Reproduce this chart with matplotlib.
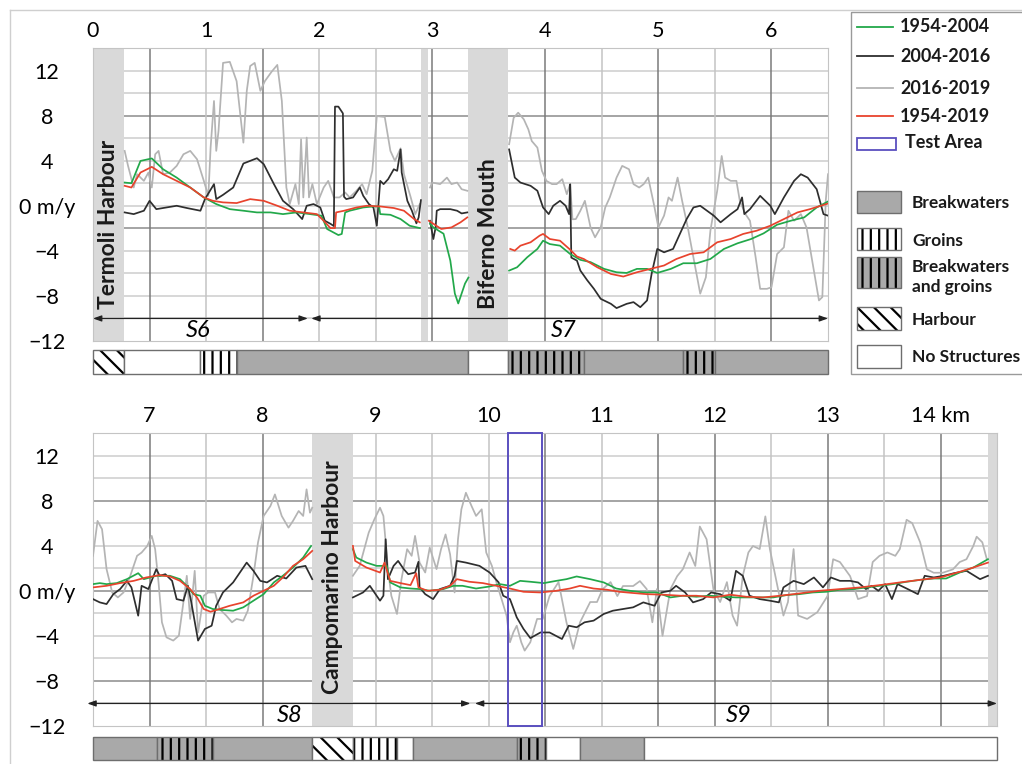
import numpy as np
import matplotlib.pyplot as plt
from matplotlib.patches import Rectangle
from matplotlib.lines import Line2D

plt.rcParams['font.family'] = ['Lato', 'DejaVu Sans']
plt.rcParams['hatch.linewidth'] = 1.6

nan = np.nan

# ---------------- top panel, 0 - 6.5 km ----------------
top_green_km = [0.28, 0.34, 0.42, 0.52, 0.62, 0.74, 0.86, 0.98, 1.09, 1.21, 1.33, 1.45, 1.57, 1.68, 1.80,
                1.92, 2.02, 2.07, 2.17, 2.20, 2.23, 2.27, 2.39, 2.48, 2.53, 2.54, 2.63, 2.72, 2.80, 2.89, nan,
                2.98, 3.01, 3.10, 3.16, 3.20, 3.23, 3.29, 3.32, nan,
                3.68, 3.75, 3.84, 3.93, 3.98, 4.04, 4.13, 4.22, 4.31, 4.40, 4.52, 4.63, 4.72, 4.81, 4.90,
                4.99, 5.11, 5.22, 5.34, 5.46, 5.58, 5.70, 5.82, 5.93, 6.05, 6.17, 6.29, 6.40, 6.50]
top_green = [2.06, 2.0, 3.98, 4.2, 3.24, 2.5, 1.62, 0.74, 0.15, -0.3, -0.44, -0.59, -0.59, -0.74, -0.59,
             -0.74, -0.88, -2.06, -2.6, -2.5, -0.59, -0.44, -0.15, -0.06, -0.06, -0.74, -0.8, -1.18, -1.77, -1.98, nan,
             -1.6, -1.92, -2.48, -4.87, -7.79, -8.67, -6.9, -6.37, nan,
             -5.75, -5.46, -4.57, -3.83, -3.1, -3.4, -3.54, -4.28, -4.8, -5.0, -5.6, -5.9, -5.96, -5.6, -5.6,
             -5.96, -5.6, -5.1, -5.1, -4.72, -3.83, -3.33, -2.95, -2.45, -1.68, -1.33, -1.03, -0.15, 0.38]

top_red_km = [0.28, 0.34, 0.42, 0.52, 0.62, 0.74, 0.86, 0.98, 1.06, 1.15, 1.27, 1.39, 1.51, 1.63, 1.74,
              1.86, 1.98, 2.04, 2.10, 2.14, 2.15, 2.22, 2.33, 2.42, 2.54, 2.66, 2.75, 2.84, 2.89, nan,
              2.97, 3.08, 3.17, 3.25, 3.31, nan,
              3.69, 3.73, 3.78, 3.87, 3.95, 3.98, 4.04, 4.13, 4.22, 4.28, 4.34, 4.46, 4.58, 4.69, 4.81,
              4.93, 5.05, 5.16, 5.28, 5.40, 5.52, 5.64, 5.75, 5.87, 5.99, 6.11, 6.23, 6.34, 6.50]
top_red = [1.77, 1.62, 2.95, 3.45, 2.8, 2.21, 1.62, 0.74, 0.44, 0.3, 0.24, 0.59, 0.44, 0.0, -0.44,
           -0.59, -0.74, -1.33, -1.98, -1.98, -0.59, -0.44, -0.15, 0.0, -0.06, -0.2, -0.44, -1.18, -1.47, nan,
           -1.33, -2.06, -1.92, -1.47, -1.03, nan,
           -3.83, -3.98, -3.54, -3.24, -2.65, -2.5, -2.95, -3.1, -3.9, -4.5, -4.72, -5.46, -6.05, -6.28, -5.9,
           -5.6, -5.3, -4.72, -4.28, -4.13, -3.24, -2.95, -2.5, -2.21, -1.77, -1.18, -0.59, -0.3, 0.2]

top_black_km = [0.28, 0.36, 0.45, 0.50, 0.56, 0.65, 0.74, 0.83, 0.95, 0.99, 1.07, 1.09, 1.15, 1.24, 1.33,
                1.45, 1.51, 1.60, 1.68, 1.77, 1.85, 1.89, 1.95, 2.01, 2.05, 2.10, 2.13, 2.14, 2.17, 2.21,
                2.22, 2.24, 2.30, 2.36, 2.39, 2.44, 2.48, 2.51, 2.54, 2.57, 2.61, 2.66, 2.69, 2.72, 2.73,
                2.78, 2.82, 2.86, 2.88, 2.90, nan,
                2.98, 3.01, 3.03, 3.04, 3.07, 3.16, 3.22, 3.26, 3.31, nan,
                3.68, 3.73, 3.78, 3.87, 3.93, 3.98, 4.03, 4.07, 4.13, 4.18, 4.21, 4.22, 4.23, 4.28, 4.31,
                4.37, 4.43, 4.49, 4.58, 4.63, 4.72, 4.78, 4.84, 4.90, 4.94, 4.99, 5.05, 5.13, 5.19, 5.25,
                5.31, 5.37, 5.43, 5.49, 5.55, 5.64, 5.70, 5.74, 5.76, 5.81, 5.90, 5.99, 6.03, 6.11, 6.20,
                6.26, 6.32, 6.40, 6.46, 6.50]
top_black = [-0.59, -0.74, -0.44, 0.44, -0.3, -0.15, 0.0, -0.2, -0.44, 0.59, 1.92, 0.59, 0.97, 1.62, 3.75,
             4.22, 3.69, 1.92, 0.44, -0.3, -1.18, 0.0, 0.15, -0.15, -1.33, -1.6, -1.8, 8.8, 8.8, 8.2,
             0.8, 0.59, 0.74, 1.62, 0.88, 0.15, -0.15, -1.77, 2.21, 1.92, 2.36, 3.24, 3.1, 5.0, 2.95,
             0.44, -0.44, -1.56, -1.03, 0.5, nan,
             -1.33, -2.95, -1.92, -0.44, -0.3, -0.3, -0.44, -0.68, -0.59, nan,
             5.0, 2.5, 2.06, 1.77, 1.33, -0.15, -0.74, 0.0, 0.44, 0.0, -0.74, 1.9, -4.6, -4.87, -5.75,
             -6.6, -7.37, -8.26, -8.7, -9.08, -8.7, -8.55, -9.0, -8.4, -6.05, -3.83, -4.13, -3.83, -2.5, -1.18,
             -0.15, 0.0, -0.44, -0.88, -1.47, -0.74, -0.3, 0.74, -0.74, -0.3, 0.88, 0.0, -0.74, 0.74, 2.21,
             2.8, 2.5, 1.47, -0.74, -0.88]

top_grey_km = [0.28, 0.31, 0.36, 0.39, 0.45, 0.49, 0.52, 0.55, 0.58, 0.62, 0.68, 0.74, 0.80, 0.86, 0.92,
               0.98, 1.02, 1.04, 1.07, 1.09, 1.11, 1.15, 1.21, 1.27, 1.33, 1.36, 1.39, 1.43, 1.48, 1.52,
               1.58, 1.63, 1.67, 1.71, 1.74, 1.79, 1.82, 1.84, 1.86, 1.89, 1.91, 1.94, 1.98, 2.04, 2.08,
               2.13, 2.18, 2.23, 2.27, 2.33, 2.38, 2.42, 2.47, 2.51, 2.58, 2.63, 2.67, 2.72, 2.75, 2.81,
               2.85, 2.89, nan,
               2.98, 3.00, 3.07, 3.13, 3.17, 3.22, 3.26, 3.31, nan,
               3.68, 3.72, 3.76, 3.81, 3.85, 3.88, 3.93, 3.97, 4.01, 4.06, 4.10, 4.15, 4.19, 4.22, 4.24,
               4.27, 4.31, 4.35, 4.40, 4.44, 4.49, 4.53, 4.57, 4.63, 4.68, 4.74, 4.78, 4.83, 4.87, 4.91,
               4.96, 5.00, 5.05, 5.09, 5.12, 5.17, 5.21, 5.26, 5.31, 5.37, 5.42, 5.46, 5.52, 5.56, 5.59,
               5.64, 5.69, 5.72, 5.77, 5.81, 5.86, 5.90, 5.96, 6.00, 6.05, 6.11, 6.15, 6.20, 6.26, 6.31,
               6.35, 6.39, 6.42, 6.45, 6.48, 6.50]
top_grey = [4.87, 3.54, 1.62, 2.8, 2.21, 2.95, 1.62, 4.57, 4.87, 2.8, 2.95, 3.54, 4.57, 4.87, 4.13,
            2.21, 0.88, 5.16, 9.3, 4.87, 6.64, 12.68, 12.77, 11.06, 5.6, 10.2, 12.4, 12.68, 10.2, 11.06,
            11.9, 12.5, 9.3, 1.62, 0.15, 1.92, 0.15, 5.9, 0.74, 6.05, 0.74, 1.92, 0.15, 1.62, 2.21,
            0.74, 0.74, 1.18, 0.74, 1.33, 1.92, 1.03, 3.1, 7.96, 7.88, 4.87, 3.98, 5.1, 2.8, 0.74,
            -0.74, 0.15, nan,
            1.62, 2.06, 1.92, 2.5, 1.92, 2.06, 1.47, 1.33, nan,
            5.46, 7.8, 8.26, 7.67, 6.78, 5.75, 5.16, 3.1, 2.21, 1.92, 1.92, 2.36, 1.03, 1.92, -1.2,
            -1.18, -0.44, 0.44, -1.92, -2.8, -1.92, -0.15, 0.74, 2.5, 3.54, 3.24, 1.92, 1.62, 1.92, 2.5,
            0.15, -1.92, -0.88, 0.74, 0.44, 2.5, 0.44, -1.92, -4.57, -7.8, -6.34, -2.21, 1.33, 4.42, 2.5,
            2.21, 2.21, 0.44, -0.74, -1.33, -4.57, -7.37, -7.37, -7.23, -4.28, -3.69, -0.44, -1.33, -0.74, -1.92,
            -4.28, -6.64, -8.4, -8.1, 0.44, 2.8]

# ---------------- bottom panel, 6.5 - 14.5 km ----------------
bot_green_km = [6.50, 6.56, 6.62, 6.71, 6.80, 6.90, 6.95, 7.06, 7.18, 7.27, 7.33, 7.39, 7.45, 7.49, 7.56,
                7.65, 7.74, 7.83, 7.92, 8.01, 8.10, 8.18, 8.27, 8.36, 8.43, nan,
                8.80, 8.83, 8.92, 9.01, 9.10, 9.13, 9.22, 9.31, 9.39, 9.48, 9.60, 9.69, 9.77, 9.89, 10.01,
                10.10, 10.19, 10.28, 10.37, 10.49, 10.60, 10.69, 10.78, 10.90, 11.02, 11.13, 11.25, 11.37,
                11.49, 11.61, 11.72, 11.84, 11.96, 12.08, 12.19, 12.31, 12.43, 12.52, 12.64, 12.75, 12.87,
                12.99, 13.11, 13.23, 13.35, 13.46, 13.58, 13.70, 13.82, 13.94, 14.05, 14.17, 14.29, 14.42]
bot_green = [0.59, 0.68, 0.59, 0.68, 1.03, 1.56, 1.03, 1.33, 1.33, 1.03, 0.44, -0.3, -0.44, -1.33, -1.62,
             -1.71, -1.77, -1.47, -0.88, -0.3, 0.74, 1.33, 2.06, 2.95, 3.98, nan,
             3.69, 2.95, 2.5, 2.21, 2.21, 0.74, 0.3, 0.2, 0.15, 0.0, 0.15, 0.44, 0.44, 0.2, 0.38,
             0.59, 0.44, 0.88, 0.8, 0.68, 0.88, 1.03, 1.27, 1.03, 0.74, 0.2, 0.0, -0.15,
             -0.15, -0.59, -0.44, -0.53, -0.44, -0.53, -0.59, -0.59, -0.59, -0.59, -0.38, -0.3, -0.15,
             -0.09, 0.09, 0.15, 0.3, 0.44, 0.59, 0.8, 0.97, 1.09, 1.09, 1.62, 2.06, 2.8]

bot_red_km = [6.50, 6.62, 6.74, 6.86, 6.97, 7.09, 7.18, 7.27, 7.36, 7.42, 7.48, 7.54, 7.62, 7.71, 7.83,
              7.92, 8.01, 8.10, 8.18, 8.27, 8.36, 8.44, nan,
              8.80, 8.82, 8.92, 9.04, 9.08, 9.13, 9.22, 9.31, 9.36, 9.38, 9.46, 9.57, 9.66, 9.72, 9.83,
              9.95, 10.07, 10.19, 10.31, 10.46, 10.60, 10.72, 10.81, 10.93, 11.05, 11.16, 11.28, 11.40,
              11.55, 11.70, 11.84, 11.99, 12.14, 12.28, 12.43, 12.58, 12.75, 12.93, 13.11, 13.29, 13.46,
              13.64, 13.82, 14.00, 14.17, 14.29, 14.42]
bot_red = [0.3, 0.44, 0.68, 0.88, 1.18, 1.39, 1.27, 0.88, 0.15, -0.59, -1.62, -1.86, -1.62, -1.33, -1.03,
           -0.44, 0.0, 0.44, 1.18, 2.21, 2.8, 3.54, nan,
           3.98, 2.65, 2.06, 1.62, 2.5, 0.88, 0.68, 0.5, 1.56, 0.3, 0.0, 0.09, 0.44, 1.03, 0.8,
           0.68, 0.44, 0.2, -0.09, -0.15, 0.0, 0.2, 0.44, 0.2, 0.09, -0.09, -0.2, -0.3,
           -0.35, -0.44, -0.44, -0.59, -0.35, -0.53, -0.59, -0.44, -0.24, 0.0, 0.15, 0.3, 0.5,
           0.74, 0.97, 1.18, 1.68, 2.06, 2.5]

bot_black_km = [6.50, 6.56, 6.62, 6.68, 6.74, 6.80, 6.84, 6.90, 6.93, 6.99, 7.06, 7.09, 7.14, 7.20, 7.24,
                7.30, 7.34, 7.37, 7.43, 7.49, 7.55, 7.59, 7.65, 7.74, 7.86, 7.92, 7.98, 8.04, 8.13, 8.21,
                8.30, 8.38, 8.44, nan,
                8.80, 8.89, 8.95, 8.99, 9.04, 9.07, 9.09, 9.11, 9.16, 9.20, 9.25, 9.29, 9.35, 9.38, 9.39,
                9.44, 9.51, 9.57, 9.66, 9.70, 9.72, 9.80, 9.92, 10.01, 10.09, 10.13, 10.19, 10.25, 10.31,
                10.37, 10.46, 10.54, 10.65, 10.71, 10.78, 10.85, 10.93, 11.02, 11.10, 11.19, 11.28, 11.37,
                11.47, 11.53, 11.61, 11.66, 11.74, 11.81, 11.90, 11.97, 12.05, 12.14, 12.19, 12.25, 12.31,
                12.40, 12.49, 12.57, 12.61, 12.70, 12.79, 12.88, 12.96, 13.03, 13.11, 13.20, 13.27, 13.34,
                13.39, 13.45, 13.51, 13.57, 13.62, 13.71, 13.80, 13.86, 13.94, 14.03, 14.12, 14.23, 14.35,
                14.42]
bot_black = [-0.74, -1.03, -1.18, -0.3, 0.15, 0.88, 0.3, -2.21, 0.44, 0.15, 1.92, 1.33, 1.47, 0.88, -0.74,
             -0.88, 0.44, -1.03, -4.42, -3.39, -3.1, -1.33, -0.15, 0.74, 2.5, 1.77, 0.88, 0.74, 1.33, 1.09,
             2.06, 2.21, 1.03, nan,
             -0.59, -0.15, 0.44, -0.15, -0.88, -0.44, 4.57, 1.03, 2.21, 2.65, 1.92, 1.47, 1.62, 2.57, 0.3,
             -0.3, -0.74, 0.15, 0.44, 1.33, 2.65, 2.5, 2.21, 1.62, 0.74, -0.44, -0.74, -2.36, -3.39,
             -4.2, -3.7, -3.7, -4.28, -3.1, -3.24, -2.8, -2.65, -2.06, -1.77, -1.62, -1.47, -1.03,
             -1.33, -0.15, 0.0, 0.44, -0.15, -1.03, -0.74, -0.15, -0.3, -0.88, 1.77, 1.33, -0.44,
             -0.74, -0.88, -1.03, 0.3, 0.88, 0.59, 1.18, 0.3, 1.18, 0.88, 0.88, 0.74, 0.15,
             0.44, 0.0, 0.59, -0.74, 0.59, 0.15, -0.3, 1.33, 1.18, 1.33, 1.56, 1.77, 1.03,
             1.33]

bot_grey_km = [6.50, 6.54, 6.58, 6.62, 6.67, 6.72, 6.77, 6.83, 6.89, 6.93, 6.98, 7.02, 7.05, 7.08, 7.11,
               7.15, 7.21, 7.26, 7.30, 7.33, 7.36, 7.40, 7.43, 7.48, 7.52, 7.58, 7.62, 7.68, 7.73, 7.77,
               7.83, 7.87, 7.92, 7.96, 8.01, 8.07, 8.11, 8.17, 8.23, 8.27, 8.32, 8.36, 8.39, 8.42, 8.44, nan,
               8.80, 8.86, 8.94, 8.99, 9.04, 9.07, 9.11, 9.14, 9.19, 9.23, 9.28, 9.32, 9.35, 9.39, 9.44,
               9.48, 9.54, 9.58, 9.62, 9.66, 9.70, 9.73, 9.76, 9.80, 9.85, 9.89, 9.94, 9.98, 10.03, 10.07,
               10.12, 10.16, 10.19, 10.22, 10.25, 10.29, 10.32, 10.37, 10.43, 10.48, 10.54, 10.62, 10.69,
               10.75, 10.81, 10.90, 10.96, 11.01, 11.08, 11.14, 11.19, 11.28, 11.34, 11.40, 11.45, 11.49,
               11.54, 11.61, 11.67, 11.72, 11.78, 11.83, 11.87, 11.93, 11.99, 12.05, 12.11, 12.16, 12.20,
               12.25, 12.30, 12.34, 12.40, 12.45, 12.49, 12.55, 12.61, 12.65, 12.70, 12.74, 12.82, 12.91,
               13.00, 13.05, 13.11, 13.20, 13.27, 13.35, 13.40, 13.46, 13.53, 13.60, 13.64, 13.70, 13.75,
               13.82, 13.88, 13.94, 14.02, 14.11, 14.17, 14.23, 14.29, 14.32, 14.37, 14.41]
bot_grey = [3.1, 6.2, 5.46, 1.92, -0.15, -0.59, -0.15, 1.33, 3.1, 3.39, 3.98, 4.87, 3.69, 0.74, -2.8,
            -4.13, -4.42, -3.98, -1.03, 1.33, -2.5, 1.77, -3.69, -0.44, -0.15, -0.15, -1.62, -2.21, -2.8, -2.5,
            -2.65, -1.77, 1.33, 4.28, 6.64, 7.52, 8.55, 6.64, 5.6, 6.2, 7.08, 6.64, 9.0, 6.93, 7.37, nan,
            1.33, 2.21, 5.16, 6.34, 7.37, 6.64, 1.92, -0.44, -2.06, 1.03, 3.69, 3.1, 4.87, 2.5, 1.62,
            3.83, 1.92, 3.69, 5.0, 3.24, -0.15, 4.57, 7.23, 8.7, 7.52, 6.64, 7.23, 3.39, 2.21, 0.74,
            -0.88, -2.21, -4.57, -3.69, -3.1, -4.57, -5.31, -4.57, -2.5, -2.5, -0.47, 0.77, -2.8,
            -5.16, -2.8, -1.0, -1.0, 0.15, 0.77, -0.47, 0.42, 0.42, 0.86, 0.15, -2.8, 0.15,
            -4.0, 0.15, 1.3, 1.92, 3.4, 2.2, 5.7, 4.57, 0.15, -1.0, 0.77, -2.2, -3.1,
            1.3, 3.4, 3.97, 3.7, 6.6, 3.7, 0.77, -2.2, -1.0, 3.7, -2.2, -2.5, -1.9,
            -0.47, 2.8, 2.55, 1.3, -0.74, -0.47, 2.55, 3.1, 3.4, 3.1, 3.7, 6.3, 6.0,
            4.3, 1.9, 1.6, 1.6, 1.9, 2.55, 2.8, 3.97, 4.8, 4.3, 2.8]

# coastal structures (start km, end km, kind)
top_struct_start = [0.0, 0.27, 0.95, 1.27, 3.32, 3.67, 4.34, 5.22, 5.50]
top_struct_end = [0.27, 0.95, 1.27, 3.32, 3.67, 4.34, 5.22, 5.50, 6.50]
top_struct_kind = ['harbour', 'none', 'groins', 'breakwaters', 'none', 'bw_groins',
                   'breakwaters', 'bw_groins', 'breakwaters']
bot_struct_start = [6.50, 7.07, 7.56, 8.44, 8.80, 9.19, 9.33, 10.25, 10.51, 10.81, 11.38]
bot_struct_end = [7.07, 7.56, 8.44, 8.80, 9.19, 9.33, 10.25, 10.51, 10.81, 11.38, 14.50]
bot_struct_kind = ['breakwaters', 'bw_groins', 'breakwaters', 'harbour', 'groins', 'none',
                   'breakwaters', 'bw_groins', 'none', 'breakwaters', 'none']

# grey bands (harbours / river mouth) and their labels
top_bands = [(0.0, 0.27), (2.90, 2.96), (3.32, 3.67)]
bot_bands = [(8.44, 8.80), (14.42, 14.50)]
top_band_labels = [('Termoli Harbour', 0.135), ('Biferno Mouth', 3.495)]
bot_band_labels = [('Campomarino Harbour', 8.62)]

# littoral cells: name, start, end, label position
top_cells = [('S6', 0.0, 1.90, 0.93), ('S7', 1.93, 6.50, 4.16)]
bot_cells = [('S8', 6.45, 9.84, 8.24), ('S9', 9.88, 14.50, 12.21)]

test_area = (10.17, 10.47)

C_GREEN = '#22a84a'
C_BLACK = '#2e2e2e'
C_GREY = '#b4b4b4'
C_RED = '#e8432d'
C_BAND = '#d9d9d9'
C_BW = '#a9a9a9'
C_TEST = '#5a4fbf'

struct_style = {
    'breakwaters': (C_BW, None),
    'groins': ('white', '||'),
    'bw_groins': (C_BW, '||'),
    'harbour': ('white', '\\\\'),
    'none': ('white', None),
}

W, H = 1022, 764
fig = plt.figure(figsize=(W / 100, H / 100), dpi=100)


def px_axes(x0, y0, x1, y1):
    return fig.add_axes([x0 / W, 1 - y1 / H, (x1 - x0) / W, (y1 - y0) / H])


def setup_panel(ax, xmin, xmax, xticks, xlabels, dark_v, dark_h):
    ax.set_xlim(xmin, xmax)
    ax.set_ylim(-12, 14)
    for y in range(-10, 14, 2):
        ax.axhline(y, color='#8c8c8c' if y in dark_h else '#cdcdcd', lw=1.1, zorder=0)
    x = np.ceil(xmin * 2) / 2
    while x < xmax - 0.01:
        if x > xmin + 0.01:
            ax.axvline(x, color='#7a7a7a' if round(x, 1) in dark_v else '#c4c4c4', lw=1.1, zorder=0)
        x += 0.5
    ax.xaxis.tick_top()
    ax.set_xticks(xticks)
    ax.set_xticklabels(xlabels, fontsize=15.5)
    ax.tick_params(axis='x', length=0, pad=5)
    ax.set_yticks([12, 8, 4, 0, -4, -8, -12])
    ax.set_yticklabels(['12', '8', '4', '0 m/y', '\u22124', '\u22128', '\u221212'], fontsize=15.5)
    ax.tick_params(axis='y', length=0, pad=33)
    for lab in ax.get_yticklabels():
        lab.set_horizontalalignment('center')
    for s in ax.spines.values():
        s.set_color('#c4c4c4')


def draw_panel(ax, bands, band_labels, cells, series):
    for a, b in bands:
        ax.axvspan(a, b, color=C_BAND, lw=0, zorder=1)
    for name, xc in band_labels:
        ax.text(xc, -9.2, name, rotation=90, ha='center', va='bottom', fontsize=16.5,
                fontweight='bold', color='#1a1a1a', zorder=5)
    for km, val, col in series:
        ax.plot(km, val, color=col, lw=1.25, zorder=3)
    for name, a, b, xl in cells:
        ax.annotate('', xy=(b, -10), xytext=(a, -10), annotation_clip=False,
                    arrowprops=dict(arrowstyle='<|-|>,head_length=0.5,head_width=0.18',
                                    color='#222222', lw=0.9, shrinkA=0, shrinkB=0), zorder=4)
        ax.text(xl, -11.1, name, ha='center', va='center', fontsize=17, style='italic', zorder=5)


def draw_structures(ax, xmin, xmax, starts, ends, kinds):
    ax.set_xlim(xmin, xmax)
    ax.set_ylim(0, 1)
    ax.axis('off')
    for a, b, k in zip(starts, ends, kinds):
        fc, hatch = struct_style[k]
        ax.add_patch(Rectangle((a, 0), b - a, 1, facecolor=fc, hatch=hatch,
                               edgecolor='black', lw=0))
        ax.add_patch(Rectangle((a, 0), b - a, 1, fill=False, edgecolor='#6e6e6e',
                               lw=1, clip_on=False))


# top panel
ax1 = px_axes(93, 48, 828, 341)
setup_panel(ax1, 0, 6.5, range(0, 7), [str(i) for i in range(0, 7)],
            dark_v=[0.5, 1.5, 3.0, 4.0, 5.0, 6.0], dark_h=[8, -2])
draw_panel(ax1, top_bands, top_band_labels, top_cells,
           [(top_grey_km, top_grey, C_GREY), (top_black_km, top_black, C_BLACK),
            (top_green_km, top_green, C_GREEN), (top_red_km, top_red, C_RED)])

bar1 = px_axes(93, 350, 828, 374)
draw_structures(bar1, 0, 6.5, top_struct_start, top_struct_end, top_struct_kind)

# bottom panel
ax2 = px_axes(93, 433, 997, 726)
setup_panel(ax2, 6.5, 14.5, range(7, 15), [str(i) for i in range(7, 14)] + ['14 km'],
            dark_v=[7.0, 8.0, 10.5, 11.5, 12.0, 13.0, 14.0], dark_h=[8, 0, -8])
draw_panel(ax2, bot_bands, bot_band_labels, bot_cells,
           [(bot_grey_km, bot_grey, C_GREY), (bot_black_km, bot_black, C_BLACK),
            (bot_green_km, bot_green, C_GREEN), (bot_red_km, bot_red, C_RED)])
ax2.add_patch(Rectangle((test_area[0], 0), test_area[1] - test_area[0], 1,
                        transform=ax2.get_xaxis_transform(), fill=False,
                        edgecolor=C_TEST, lw=1.4, zorder=6, clip_on=False))

bar2 = px_axes(93, 737, 997, 760)
draw_structures(bar2, 6.5, 14.5, bot_struct_start, bot_struct_end, bot_struct_kind)

# legend, drawn in pixel units
leg = px_axes(851, 12, 1040, 374)
leg.set_xlim(851, 1040)
leg.set_ylim(374, 12)
leg.axis('off')
leg.add_patch(Rectangle((851, 12), 189, 362, fill=False, edgecolor='#9a9a9a', lw=1, clip_on=False))
for y, col, lab in [(27, C_GREEN, '1954-2004'), (56, C_BLACK, '2004-2016'),
                    (88, C_GREY, '2016-2019'), (116, C_RED, '1954-2019')]:
    leg.plot([857, 893], [y, y], color=col, lw=1.3)
    leg.text(900, y, lab, fontsize=13, fontweight='bold', va='center', ha='left', color='#1a1a1a')
leg.add_patch(Rectangle((857, 138), 39, 12, fill=False, edgecolor=C_TEST, lw=1.3))
leg.text(905, 143, 'Test Area', fontsize=13, fontweight='bold', va='center', color='#1a1a1a')
for y0, h, kind, lab, ty in [(191, 22, 'breakwaters', 'Breakwaters', 203),
                             (228, 22, 'groins', 'Groins', 241),
                             (257, 31, 'bw_groins', 'Breakwaters\nand groins', 277),
                             (307, 23, 'harbour', 'Harbour', 320),
                             (345, 23, 'none', 'No Structures', 357)]:
    fc, hatch = struct_style[kind]
    leg.add_patch(Rectangle((857, y0), 44, h, facecolor=fc, hatch=hatch, edgecolor='black', lw=0))
    leg.add_patch(Rectangle((857, y0), 44, h, fill=False, edgecolor='#6e6e6e', lw=1))
    leg.text(912, ty, lab, fontsize=12.5, fontweight='bold', va='center', ha='left',
             color='#1a1a1a', linespacing=1.25)

# thin frame of the original figure
fig.add_artist(Line2D([10 / W, 1], [1 - 10 / H, 1 - 10 / H], transform=fig.transFigure,
                      color='#cfcfcf', lw=1))
fig.add_artist(Line2D([10 / W, 10 / W], [0, 1 - 10 / H], transform=fig.transFigure,
                      color='#cfcfcf', lw=1))

fig.savefig('out.png', dpi=100)
